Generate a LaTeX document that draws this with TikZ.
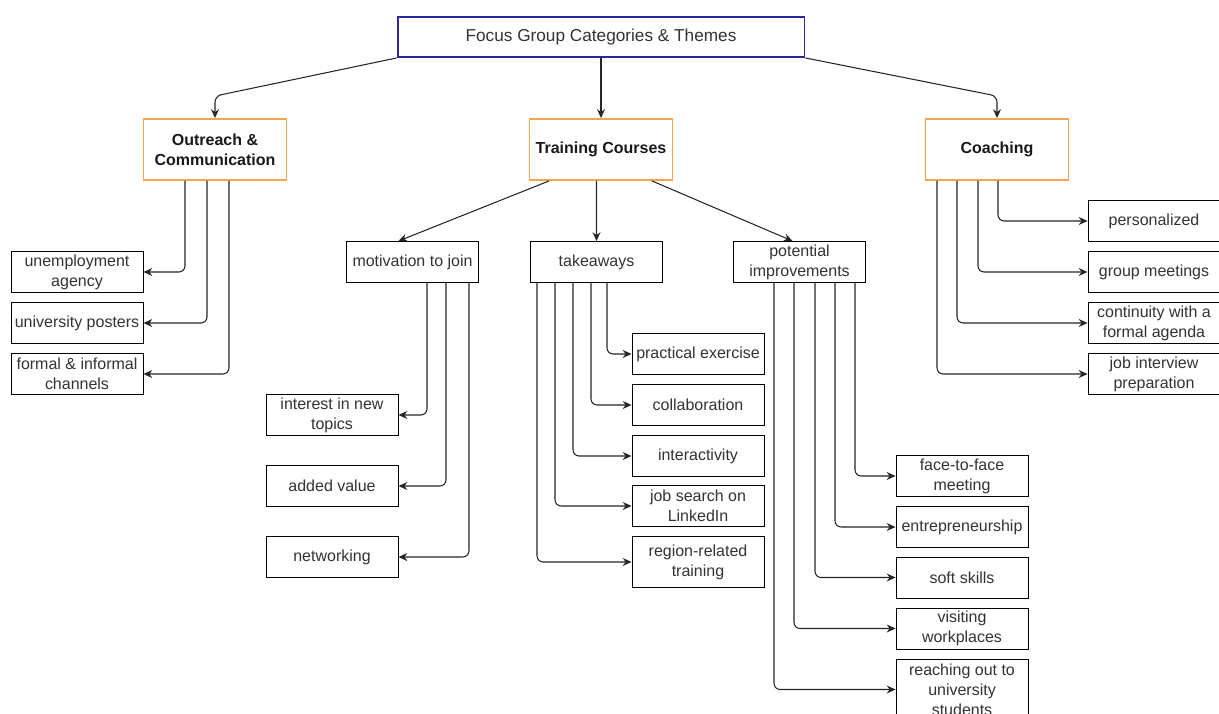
\documentclass[tikz,border=0pt]{standalone}
\usepackage{fontspec}
\setmainfont{Liberation Sans}
\usetikzlibrary{positioning,calc,arrows.meta}
\definecolor{rootblue}{RGB}{40,40,160}
\definecolor{catorange}{RGB}{245,165,80}
\definecolor{txtgray}{RGB}{51,51,51}

\begin{document}
\begin{tikzpicture}[x=0.02cm, y=-0.02cm,
    every node/.style={font=\fontsize{9.1}{11.3}\selectfont, text=txtgray, align=center, inner sep=0pt},
    root/.style={draw=rootblue, line width=1.1pt, minimum width=8.14cm, minimum height=0.8cm, font=\fontsize{9.8}{12}\selectfont},
    cat/.style={draw=catorange, line width=1.1pt, minimum width=2.86cm, minimum height=1.22cm, font=\fontsize{9.1}{11.3}\selectfont\bfseries, text=black!90},
    item/.style={draw, line width=0.55pt, minimum width=2.64cm, minimum height=0.82cm},
    arrow/.style={-{Stealth[length=5pt,width=4.5pt]}, line width=0.6pt, draw=black!85, rounded corners=3.5pt}
]
\clip (0,0) rectangle (1219,713);
\fill[white] (0,0) rectangle (1219,713);

% root and categories
\node[root] (fg)       at (601,37)    {Focus Group Categories \& Themes};
\node[cat]  (outreach) at (215,149.5) {Outreach \&\\Communication};
\node[cat]  (training) at (601,149.5) {Training Courses};
\node[cat]  (coaching) at (997,149.5) {Coaching};

\draw[arrow] (fg.south west) -- ($(outreach.north)+(0,-22)$) -- (outreach.north);
\draw[arrow] (fg.south)      -- (training.north);
\draw[arrow] (fg.south east) -- ($(coaching.north)+(0,-22)$) -- (coaching.north);

% outreach
\node[item] (agency)   at (77,272) {unemployment\\agency};
\node[item] (posters)  at (77,323) {university posters};
\node[item] (channels) at (77,374) {formal \& informal\\channels};

\draw[arrow] ($(outreach.south)+(-30,0)$) |- (agency.east);
\draw[arrow] ($(outreach.south)+(-8,0)$)  |- (posters.east);
\draw[arrow] ($(outreach.south)+(14,0)$)  |- (channels.east);

% training courses
\node[item] (motivation) at (412.5,262) {motivation to join};
\node[item] (takeaways)  at (596.5,262) {takeaways};
\node[item] (improve)    at (799.5,262) {potential\\improvements};

\draw[arrow] ($(training.south)+(-52,0)$) -- ($(motivation.north)+(-14,0)$);
\draw[arrow] ($(training.south)+(-4.5,0)$) -- (takeaways.north);
\draw[arrow] ($(training.south)+(51,0)$)  -- ($(improve.north)+(-7,0)$);

\node[item] (interest)   at (332,415) {interest in new\\topics};
\node[item] (added)      at (332,486) {added value};
\node[item] (networking) at (332,557) {networking};

\draw[arrow] ($(motivation.south)+(14.5,0)$) |- (interest.east);
\draw[arrow] ($(motivation.south)+(33.5,0)$) |- (added.east);
\draw[arrow] ($(motivation.south)+(56.5,0)$) |- (networking.east);

\node[item] (practical) at (698,354) {practical exercise};
\node[item] (collab)    at (698,405) {collaboration};
\node[item] (interact)  at (698,456) {interactivity};
\node[item] (linkedin)  at (698,506) {job search on\\LinkedIn};
\node[item, minimum height=1.02cm] (region) at (698,562) {region-related\\training};

\draw[arrow] ($(takeaways.south)+(10.5,0)$)  |- (practical.west);
\draw[arrow] ($(takeaways.south)+(-5.5,0)$)  |- (collab.west);
\draw[arrow] ($(takeaways.south)+(-23.5,0)$) |- (interact.west);
\draw[arrow] ($(takeaways.south)+(-41.5,0)$) |- (linkedin.west);
\draw[arrow] ($(takeaways.south)+(-59.5,0)$) |- (region.west);

\node[item] (face)     at (962,476) {face-to-face\\meeting};
\node[item] (entre)    at (962,527) {entrepreneurship};
\node[item] (soft)     at (962,577.5) {soft skills};
\node[item] (visiting) at (962,628.5) {visiting\\workplaces};
\node[item, minimum height=1.22cm] (reaching) at (962,689.5) {reaching out to\\university\\students};

\draw[arrow] ($(improve.south)+(55.5,0)$)  |- (face.west);
\draw[arrow] ($(improve.south)+(35.5,0)$)  |- (entre.west);
\draw[arrow] ($(improve.south)+(15.5,0)$)  |- (soft.west);
\draw[arrow] ($(improve.south)+(-5.5,0)$)  |- (visiting.west);
\draw[arrow] ($(improve.south)+(-25.5,0)$) |- (reaching.west);

% coaching
\node[item] (personal)   at (1154,221) {personalized};
\node[item] (group)      at (1154,272) {group meetings};
\node[item] (continuity) at (1154,323) {continuity with a\\formal agenda};
\node[item] (interview)  at (1154,374) {job interview\\preparation};

\draw[arrow] ($(coaching.south)+(1,0)$)   |- (personal.west);
\draw[arrow] ($(coaching.south)+(-19,0)$) |- (group.west);
\draw[arrow] ($(coaching.south)+(-40,0)$) |- (continuity.west);
\draw[arrow] ($(coaching.south)+(-60,0)$) |- (interview.west);
\end{tikzpicture}
\end{document}
